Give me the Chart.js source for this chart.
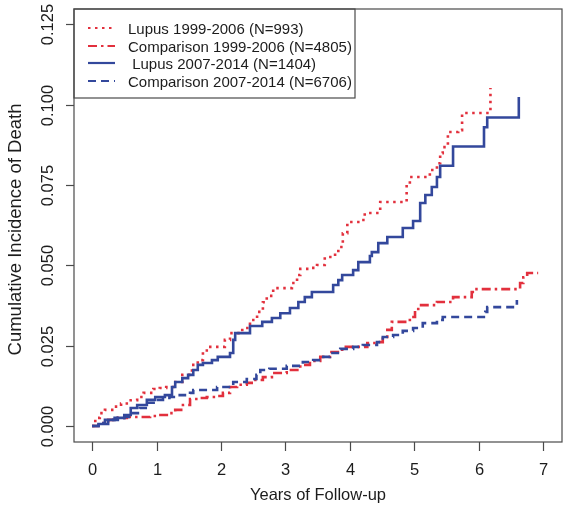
<!DOCTYPE html>
<html>
<head>
<meta charset="utf-8">
<script src="https://cdn.jsdelivr.net/npm/chart.js@4.4.1/dist/chart.umd.min.js"></script>
<style>
  html, body { margin: 0; padding: 0; background: #fff; }
  canvas { display: block; }
</style>
</head>
<body>
<canvas id="chart" width="566" height="509"></canvas>
<script>
// Dados (tempo em anos, incidência acumulada)
const lupusOldTimes = [0, 0.05, 0.12, 0.2, 0.35, 0.45, 0.6, 0.7, 0.8, 0.95, 1.05, 1.15, 1.26, 1.4, 1.55, 1.64, 1.72, 1.8, 2.06, 2.14, 2.33, 2.45, 2.56, 2.65, 2.71, 2.81, 3.1, 3.18, 3.23, 3.41, 3.49, 3.61, 3.77, 3.82, 3.89, 3.96, 4.16, 4.23, 4.47, 4.88, 4.93, 5.24, 5.35, 5.4, 5.44, 5.52, 5.68, 5.74, 6.18];
const lupusOldValues = [0, 0.0025, 0.004, 0.005, 0.006, 0.007, 0.008, 0.009, 0.0103, 0.0115, 0.0118, 0.0121, 0.0137, 0.0159, 0.019, 0.0205, 0.0235, 0.0246, 0.0268, 0.0289, 0.0305, 0.033, 0.0355, 0.0385, 0.0405, 0.0429, 0.0445, 0.047, 0.0489, 0.0492, 0.0501, 0.0526, 0.0538, 0.0557, 0.06, 0.0635, 0.0641, 0.0663, 0.0697, 0.075, 0.0775, 0.0797, 0.0818, 0.0849, 0.0868, 0.0915, 0.0921, 0.0974, 0.1052];

const compOldTimes = [0, 0.1, 0.25, 0.4, 0.54, 0.9, 1.0, 1.16, 1.29, 1.41, 1.52, 1.68, 1.78, 1.94, 2.03, 2.14, 2.25, 2.4, 2.5, 2.65, 2.79, 3.02, 3.23, 3.38, 3.54, 3.69, 3.88, 4.27, 4.42, 4.51, 4.58, 4.65, 4.93, 5.01, 5.06, 5.35, 5.6, 5.89, 5.94, 6.64, 6.69, 6.75, 6.92];
const compOldValues = [0, 0.0009, 0.0019, 0.0025, 0.0028, 0.0031, 0.0034, 0.004, 0.005, 0.0065, 0.0084, 0.0087, 0.009, 0.0093, 0.0103, 0.0121, 0.0128, 0.0134, 0.0143, 0.0152, 0.0165, 0.0174, 0.019, 0.0202, 0.0215, 0.023, 0.0246, 0.0258, 0.0261, 0.0277, 0.0299, 0.0324, 0.0339, 0.036, 0.0376, 0.0386, 0.0401, 0.0417, 0.0426, 0.0445, 0.0463, 0.0476, 0.0476];

const lupusNewTimes = [0, 0.1, 0.25, 0.4, 0.5, 0.6, 0.7, 0.85, 0.98, 1.13, 1.24, 1.29, 1.4, 1.49, 1.57, 1.64, 1.72, 1.86, 1.95, 2.14, 2.19, 2.22, 2.45, 2.64, 2.79, 2.92, 3.07, 3.2, 3.3, 3.41, 3.74, 3.82, 3.88, 4.05, 4.13, 4.31, 4.34, 4.44, 4.58, 4.82, 4.98, 5.09, 5.17, 5.27, 5.35, 5.4, 5.6, 6.08, 6.13, 6.62];
const lupusNewValues = [0, 0.0006, 0.0019, 0.0025, 0.0034, 0.0056, 0.0065, 0.0081, 0.009, 0.0096, 0.0121, 0.0137, 0.0149, 0.0159, 0.0174, 0.019, 0.0196, 0.0205, 0.0215, 0.0227, 0.0268, 0.0289, 0.0311, 0.0324, 0.0336, 0.0351, 0.0367, 0.0386, 0.0401, 0.0417, 0.0439, 0.0454, 0.047, 0.0485, 0.051, 0.0529, 0.0541, 0.0569, 0.0588, 0.0616, 0.0638, 0.0694, 0.0719, 0.0744, 0.0775, 0.081, 0.087, 0.093, 0.096, 0.1024];

const compNewTimes = [0, 0.1, 0.2, 0.35, 0.5, 0.62, 0.74, 0.87, 1.0, 1.1, 1.2, 1.36, 1.52, 1.57, 1.94, 2.19, 2.4, 2.55, 2.61, 2.75, 3.02, 3.27, 3.43, 3.54, 3.69, 3.85, 4.05, 4.2, 4.42, 4.51, 4.67, 4.82, 4.98, 5.13, 5.35, 5.44, 6.1, 6.13, 6.59];
const compNewValues = [0, 0.0009, 0.0019, 0.0025, 0.0028, 0.004, 0.0056, 0.0072, 0.0081, 0.0087, 0.009, 0.0096, 0.0103, 0.0112, 0.0121, 0.0137, 0.0146, 0.0159, 0.0174, 0.0178, 0.0187, 0.0199, 0.0205, 0.0215, 0.0227, 0.024, 0.0246, 0.0252, 0.0261, 0.0277, 0.0283, 0.0296, 0.0305, 0.032, 0.033, 0.0339, 0.0355, 0.037, 0.0392];

const xTicks = [0, 1, 2, 3, 4, 5, 6, 7];
const yTicks = [0, 0.025, 0.05, 0.075, 0.1, 0.125];
const yTickLabels = ['0.000', '0.025', '0.050', '0.075', '0.100', '0.125'];
const seriesLabels = ['Lupus 1999-2006 (N=993)', 'Comparison 1999-2006 (N=4805)', ' Lupus 2007-2014 (N=1404)', 'Comparison 2007-2014 (N=6706)'];

const RED = '#e2303d';
const BLUE = '#33489c';
const INK = '#1c1c1c';
const FONT = '"Liberation Sans", Arial, sans-serif';

const lineStyles = [
    { color: RED, dash: [2.5, 4.5] },
    { color: RED, dash: [9, 4, 2.5, 4] },
    { color: BLUE, dash: [] },
    { color: BLUE, dash: [8, 5] }
];

function toPoints(times, values) {
    return times.map((t, i) => ({ x: t, y: values[i] }));
}

/**
 * Desenha moldura, eixos, rótulos e legenda no estilo R.
 */
const rAxesPlugin = {
    id: 'rAxes',
    afterDraw(chart) {
        const ctx = chart.ctx;
        const area = chart.chartArea;
        const xs = chart.scales.x;
        const ys = chart.scales.y;

        ctx.save();
        ctx.strokeStyle = '#4a4a4a';
        ctx.lineWidth = 1.2;
        ctx.strokeRect(area.left, area.top, area.right - area.left, area.bottom - area.top);

        // eixo x
        ctx.fillStyle = INK;
        ctx.font = '16.5px ' + FONT;
        ctx.textAlign = 'center';
        ctx.textBaseline = 'alphabetic';
        xTicks.forEach(v => {
            const px = Math.round(xs.getPixelForValue(v)) + 0.5;
            ctx.beginPath();
            ctx.moveTo(px, area.bottom);
            ctx.lineTo(px, area.bottom + 9);
            ctx.stroke();
            ctx.fillText(String(v), px, 475);
        });
        ctx.fillText('Years of Follow-up', (area.left + area.right) / 2, 500);

        // eixo y
        yTicks.forEach((v, i) => {
            const py = Math.round(ys.getPixelForValue(v)) + 0.5;
            ctx.beginPath();
            ctx.moveTo(area.left, py);
            ctx.lineTo(area.left - 8, py);
            ctx.stroke();
            ctx.save();
            ctx.translate(53, py);
            ctx.rotate(-Math.PI / 2);
            ctx.fillText(yTickLabels[i], 0, 0);
            ctx.restore();
        });
        ctx.save();
        ctx.font = '18.5px ' + FONT;
        ctx.translate(21, (area.top + area.bottom) / 2 + 4);
        ctx.rotate(-Math.PI / 2);
        ctx.fillText('Cumulative Incidence of Death', 0, 0);
        ctx.restore();

        // legenda
        ctx.strokeStyle = '#4a4a4a';
        ctx.lineWidth = 1.2;
        ctx.strokeRect(area.left, area.top, 281, 89);
        ctx.font = '15px ' + FONT;
        ctx.textAlign = 'left';
        const rows = [28, 46, 63, 81];
        seriesLabels.forEach((label, i) => {
            const y = rows[i];
            ctx.save();
            ctx.strokeStyle = lineStyles[i].color;
            ctx.lineWidth = 2.2;
            ctx.setLineDash(lineStyles[i].dash);
            ctx.beginPath();
            ctx.moveTo(88, y);
            ctx.lineTo(115, y);
            ctx.stroke();
            ctx.restore();
            ctx.fillStyle = INK;
            ctx.fillText(label, 128, y + 5.5);
        });
        ctx.restore();
    }
};

const seriesData = [
    toPoints(lupusOldTimes, lupusOldValues),
    toPoints(compOldTimes, compOldValues),
    toPoints(lupusNewTimes, lupusNewValues),
    toPoints(compNewTimes, compNewValues)
];

const ctx = document.getElementById('chart').getContext('2d');
new Chart(ctx, {
    type: 'line',
    data: {
        datasets: seriesData.map((pts, i) => ({
            label: seriesLabels[i],
            data: pts,
            borderColor: lineStyles[i].color,
            borderDash: lineStyles[i].dash,
            borderWidth: 2.6,
            stepped: 'before',
            pointRadius: 0,
            fill: false,
            order: 3 - i
        }))
    },
    options: {
        responsive: false,
        animation: false,
        devicePixelRatio: 1,
        layout: { padding: { left: 74, top: 9, right: 4, bottom: 67 } },
        plugins: {
            legend: { display: false },
            tooltip: { enabled: false }
        },
        scales: {
            x: { type: 'linear', min: -0.28, max: 7.29, display: false },
            y: { type: 'linear', min: -0.005, max: 0.1298, display: false }
        }
    },
    plugins: [rAxesPlugin]
});
</script>
</body>
</html>
